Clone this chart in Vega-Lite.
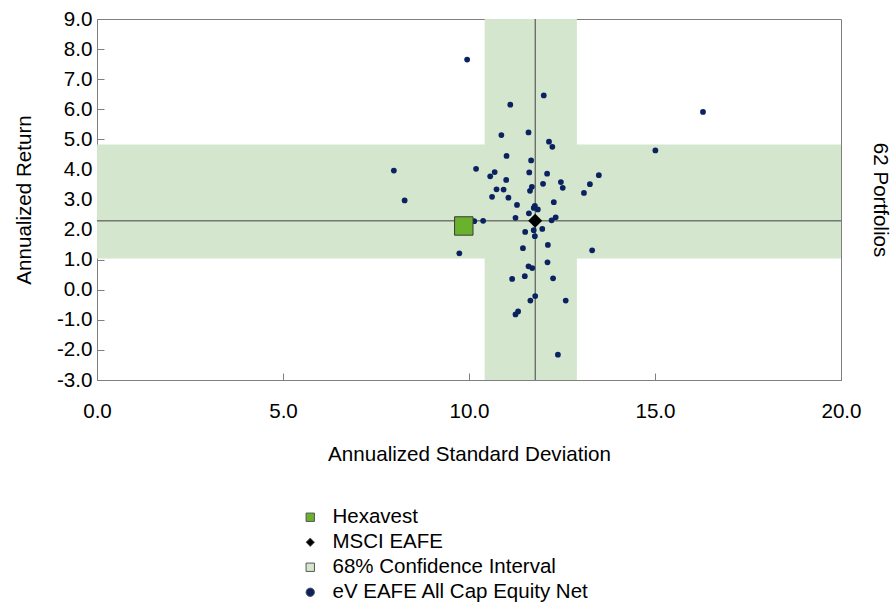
{
  "$schema": "https://vega.github.io/schema/vega-lite/v6.json",
  "width": 744,
  "height": 361,
  "autosize": "none",
  "padding": {"left": 97, "top": 19, "right": 51, "bottom": 225},
  "background": "white",
  "config": {
    "view": {"stroke": "#7f7f7f", "strokeWidth": 1},
    "font": "Liberation Sans",
    "axis": {
      "labelFont": "Liberation Sans",
      "titleFont": "Liberation Sans",
      "labelFontSize": 20.6,
      "titleFontSize": 20.6,
      "labelColor": "#000000",
      "titleColor": "#000000",
      "titleFontWeight": "normal",
      "domainColor": "#7f7f7f",
      "tickColor": "#7f7f7f",
      "labelFlush": false,
      "grid": false
    },
    "legend": {
      "labelFont": "Liberation Sans",
      "labelFontSize": 20.5,
      "labelColor": "#000000",
      "labelLimit": 500,
      "labelOffset": 12,
      "symbolSize": 70,
      "symbolStrokeColor": "#555555",
      "symbolStrokeWidth": 1,
      "rowPadding": 4,
      "padding": 0
    }
  },
  "datasets": {
    "band": [
      {"x1": 10.42, "x2": 12.9, "y1": -3, "y2": 9, "series": "68% Confidence Interval"},
      {"x1": 0, "x2": 20, "y1": 1.04, "y2": 4.83, "series": "68% Confidence Interval"}
    ],
    "bench": [
      {"sd": 11.78, "ret": 2.29, "series": "MSCI EAFE"}
    ],
    "hexa": [
      {"sd": 9.86, "ret": 2.12, "series": "Hexavest"}
    ],
    "univ": [
      {"sd": 9.95, "ret": 7.65, "series": "eV EAFE All Cap Equity Net"},
      {"sd": 12.01, "ret": 6.46, "series": "eV EAFE All Cap Equity Net"},
      {"sd": 11.11, "ret": 6.15, "series": "eV EAFE All Cap Equity Net"},
      {"sd": 10.87, "ret": 5.14, "series": "eV EAFE All Cap Equity Net"},
      {"sd": 11.6, "ret": 5.23, "series": "eV EAFE All Cap Equity Net"},
      {"sd": 12.15, "ret": 4.92, "series": "eV EAFE All Cap Equity Net"},
      {"sd": 12.24, "ret": 4.75, "series": "eV EAFE All Cap Equity Net"},
      {"sd": 16.29, "ret": 5.91, "series": "eV EAFE All Cap Equity Net"},
      {"sd": 15.01, "ret": 4.63, "series": "eV EAFE All Cap Equity Net"},
      {"sd": 7.98, "ret": 3.96, "series": "eV EAFE All Cap Equity Net"},
      {"sd": 11.01, "ret": 4.45, "series": "eV EAFE All Cap Equity Net"},
      {"sd": 11.67, "ret": 4.3, "series": "eV EAFE All Cap Equity Net"},
      {"sd": 10.19, "ret": 4.02, "series": "eV EAFE All Cap Equity Net"},
      {"sd": 10.69, "ret": 3.91, "series": "eV EAFE All Cap Equity Net"},
      {"sd": 10.57, "ret": 3.77, "series": "eV EAFE All Cap Equity Net"},
      {"sd": 11.62, "ret": 3.9, "series": "eV EAFE All Cap Equity Net"},
      {"sd": 12.1, "ret": 3.86, "series": "eV EAFE All Cap Equity Net"},
      {"sd": 13.49, "ret": 3.81, "series": "eV EAFE All Cap Equity Net"},
      {"sd": 11.0, "ret": 3.65, "series": "eV EAFE All Cap Equity Net"},
      {"sd": 11.99, "ret": 3.52, "series": "eV EAFE All Cap Equity Net"},
      {"sd": 12.47, "ret": 3.58, "series": "eV EAFE All Cap Equity Net"},
      {"sd": 13.25, "ret": 3.51, "series": "eV EAFE All Cap Equity Net"},
      {"sd": 12.52, "ret": 3.39, "series": "eV EAFE All Cap Equity Net"},
      {"sd": 10.74, "ret": 3.34, "series": "eV EAFE All Cap Equity Net"},
      {"sd": 10.93, "ret": 3.33, "series": "eV EAFE All Cap Equity Net"},
      {"sd": 11.69, "ret": 3.42, "series": "eV EAFE All Cap Equity Net"},
      {"sd": 11.64, "ret": 3.29, "series": "eV EAFE All Cap Equity Net"},
      {"sd": 13.09, "ret": 3.22, "series": "eV EAFE All Cap Equity Net"},
      {"sd": 10.62, "ret": 3.09, "series": "eV EAFE All Cap Equity Net"},
      {"sd": 11.06, "ret": 3.06, "series": "eV EAFE All Cap Equity Net"},
      {"sd": 8.27, "ret": 2.97, "series": "eV EAFE All Cap Equity Net"},
      {"sd": 12.28, "ret": 2.91, "series": "eV EAFE All Cap Equity Net"},
      {"sd": 11.29, "ret": 2.82, "series": "eV EAFE All Cap Equity Net"},
      {"sd": 11.77, "ret": 2.79, "series": "eV EAFE All Cap Equity Net"},
      {"sd": 11.74, "ret": 2.72, "series": "eV EAFE All Cap Equity Net"},
      {"sd": 11.85, "ret": 2.67, "series": "eV EAFE All Cap Equity Net"},
      {"sd": 11.61, "ret": 2.54, "series": "eV EAFE All Cap Equity Net"},
      {"sd": 11.25, "ret": 2.39, "series": "eV EAFE All Cap Equity Net"},
      {"sd": 12.33, "ret": 2.41, "series": "eV EAFE All Cap Equity Net"},
      {"sd": 12.22, "ret": 2.31, "series": "eV EAFE All Cap Equity Net"},
      {"sd": 10.14, "ret": 2.28, "series": "eV EAFE All Cap Equity Net"},
      {"sd": 10.38, "ret": 2.29, "series": "eV EAFE All Cap Equity Net"},
      {"sd": 11.97, "ret": 2.02, "series": "eV EAFE All Cap Equity Net"},
      {"sd": 11.51, "ret": 1.92, "series": "eV EAFE All Cap Equity Net"},
      {"sd": 11.74, "ret": 1.98, "series": "eV EAFE All Cap Equity Net"},
      {"sd": 11.77, "ret": 1.78, "series": "eV EAFE All Cap Equity Net"},
      {"sd": 9.74, "ret": 1.21, "series": "eV EAFE All Cap Equity Net"},
      {"sd": 12.12, "ret": 1.49, "series": "eV EAFE All Cap Equity Net"},
      {"sd": 11.45, "ret": 1.38, "series": "eV EAFE All Cap Equity Net"},
      {"sd": 13.31, "ret": 1.31, "series": "eV EAFE All Cap Equity Net"},
      {"sd": 11.6, "ret": 0.78, "series": "eV EAFE All Cap Equity Net"},
      {"sd": 11.7, "ret": 0.72, "series": "eV EAFE All Cap Equity Net"},
      {"sd": 12.11, "ret": 0.91, "series": "eV EAFE All Cap Equity Net"},
      {"sd": 11.16, "ret": 0.36, "series": "eV EAFE All Cap Equity Net"},
      {"sd": 11.5, "ret": 0.45, "series": "eV EAFE All Cap Equity Net"},
      {"sd": 12.26, "ret": 0.38, "series": "eV EAFE All Cap Equity Net"},
      {"sd": 11.78, "ret": -0.21, "series": "eV EAFE All Cap Equity Net"},
      {"sd": 11.65, "ret": -0.36, "series": "eV EAFE All Cap Equity Net"},
      {"sd": 12.6, "ret": -0.36, "series": "eV EAFE All Cap Equity Net"},
      {"sd": 11.32, "ret": -0.72, "series": "eV EAFE All Cap Equity Net"},
      {"sd": 11.25, "ret": -0.82, "series": "eV EAFE All Cap Equity Net"},
      {"sd": 12.39, "ret": -2.16, "series": "eV EAFE All Cap Equity Net"}
    ]
  },
  "resolve": {"axis": {"y": "independent"}},
  "layer": [
    {
      "data": {"name": "band"},
      "mark": {"type": "rect", "opacity": 1},
      "encoding": {
        "x": {
          "field": "x1", "type": "quantitative",
          "scale": {"domain": [0, 20], "nice": false, "zero": false},
          "axis": {
            "title": "Annualized Standard Deviation",
            "values": [0, 5, 10, 15, 20],
            "labelExpr": "datum.value < 0 ? '-' + format(-datum.value, '.1f') : format(datum.value, '.1f')",
            "tickSize": -7,
            "labelPadding": 28,
            "titlePadding": 23
          }
        },
        "x2": {"field": "x2"},
        "y": {
          "field": "y1", "type": "quantitative",
          "scale": {"domain": [-3, 9], "nice": false, "zero": false},
          "axis": {
            "title": "Annualized Return",
            "values": [-3, -2, -1, 0, 1, 2, 3, 4, 5, 6, 7, 8, 9],
            "labelExpr": "datum.value < 0 ? '-' + format(-datum.value, '.1f') : format(datum.value, '.1f')",
            "tickSize": -7,
            "labelPadding": 12,
            "titlePadding": 22
          }
        },
        "y2": {"field": "y2"},
        "color": {
          "field": "series", "type": "nominal",
          "scale": {
            "domain": ["Hexavest", "MSCI EAFE", "68% Confidence Interval", "eV EAFE All Cap Equity Net"],
            "range": ["#6ab22d", "#000000", "#d5e6cf", "#0b2260"]
          },
          "legend": {
            "title": null,
            "orient": "none",
            "legendX": 203,
            "legendY": 488
          }
        }
      }
    },
    {
      "data": {"name": "bench"},
      "mark": {"type": "rule", "color": "#404040", "strokeWidth": 1},
      "encoding": {
        "x": {"field": "sd", "type": "quantitative"}
      }
    },
    {
      "data": {"name": "bench"},
      "mark": {"type": "rule", "color": "#404040", "strokeWidth": 1},
      "encoding": {
        "y": {
          "field": "ret", "type": "quantitative",
          "axis": {
            "orient": "right",
            "title": "62 Portfolios",
            "titleAngle": 90,
            "titleFontSize": 20.6,
            "labels": false,
            "ticks": false,
            "domain": false,
            "titlePadding": 28
          }
        }
      }
    },
    {
      "data": {"name": "univ"},
      "mark": {"type": "point", "filled": true, "size": 33, "opacity": 1},
      "encoding": {
        "x": {"field": "sd", "type": "quantitative"},
        "y": {"field": "ret", "type": "quantitative", "axis": null},
        "color": {"field": "series", "type": "nominal"},
        "shape": {
          "field": "series", "type": "nominal",
          "scale": {
            "domain": ["Hexavest", "MSCI EAFE", "68% Confidence Interval", "eV EAFE All Cap Equity Net"],
            "range": ["square", "diamond", "square", "circle"]
          },
          "legend": {
            "title": null,
            "orient": "none",
            "legendX": 203,
            "legendY": 488
          }
        }
      }
    },
    {
      "data": {"name": "hexa"},
      "mark": {"type": "point", "filled": true, "size": 340, "opacity": 1, "stroke": "#3a3a3a", "strokeWidth": 1},
      "encoding": {
        "x": {"field": "sd", "type": "quantitative"},
        "y": {"field": "ret", "type": "quantitative", "axis": null},
        "color": {"field": "series", "type": "nominal"},
        "shape": {"field": "series", "type": "nominal"}
      }
    },
    {
      "data": {"name": "bench"},
      "mark": {"type": "point", "filled": true, "size": 196, "opacity": 1},
      "encoding": {
        "x": {"field": "sd", "type": "quantitative"},
        "y": {"field": "ret", "type": "quantitative", "axis": null},
        "color": {"field": "series", "type": "nominal"},
        "shape": {"field": "series", "type": "nominal"}
      }
    }
  ]
}
